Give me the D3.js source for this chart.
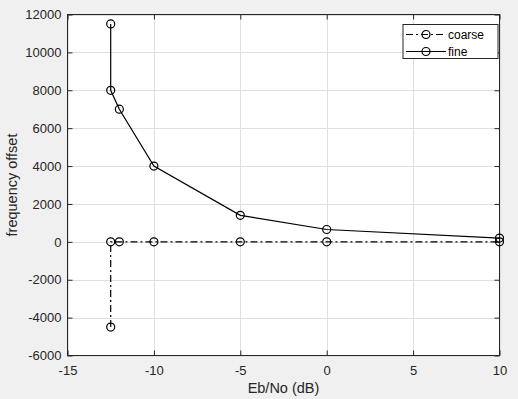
<!DOCTYPE html>
<html>
<head>
<meta charset="utf-8">
<script src="https://cdn.jsdelivr.net/npm/d3@7"></script>
<style>
  body { margin: 0; background: #f0f0f0; }
  svg { display: block; font-family: "Liberation Sans", Arial, sans-serif; }
</style>
</head>
<body>
<div id="chart"></div>
<script>
// data
var ebno = [-12.5, -12.5, -12, -10, -5, 0, 10];
var coarse = [-4500, 0, 0, 0, 0, 0, 0];
var fine = [11500, 8000, 7000, 4000, 1400, 650, 200];
var x_ticks = [-15, -10, -5, 0, 5, 10];
var y_ticks = [-6000, -4000, -2000, 0, 2000, 4000, 6000, 8000, 10000, 12000];
var series_names = ['coarse', 'fine'];

var width = 518, height = 399;
var left = 67.5, right = 499.5, top_y = 14.5, bottom = 355.5;
var axis_col = '#262626';
var fmt = d => String(d);  // plain numbers, hyphen minus

var svg = d3.select('#chart').append('svg')
    .attr('width', width)
    .attr('height', height);

var x = d3.scaleLinear().domain([-15, 10]).range([left, right]);
var y = d3.scaleLinear().domain([-6000, 12000]).range([bottom, top_y]);

// plot area
svg.append('rect')
    .attr('x', left).attr('y', top_y)
    .attr('width', right - left).attr('height', bottom - top_y)
    .style('fill', '#fff');

// grid
var grid = svg.append('g').attr('class', 'grid');
grid.selectAll('line.gx').data(x_ticks).join('line')
    .attr('x1', d => Math.round(x(d)) + 0.5).attr('x2', d => Math.round(x(d)) + 0.5)
    .attr('y1', top_y).attr('y2', bottom)
    .style('stroke', '#dfdfdf');
grid.selectAll('line.gy').data(y_ticks).join('line')
    .attr('y1', d => Math.round(y(d)) + 0.5).attr('y2', d => Math.round(y(d)) + 0.5)
    .attr('x1', left).attr('x2', right)
    .style('stroke', '#dfdfdf');

// axes, ticks inside like matlab
function style_axis(g) {
    g.select('.domain').remove();
    g.selectAll('.tick line').style('stroke', axis_col);
    g.selectAll('.tick text').style('fill', axis_col).style('font-size', '13px');
}
svg.append('g')
    .attr('transform', 'translate(0,' + bottom + ')')
    .call(d3.axisBottom(x).tickValues(x_ticks).tickSizeInner(-5).tickSizeOuter(0).tickPadding(10).tickFormat(fmt))
    .call(style_axis);
svg.append('g')
    .attr('transform', 'translate(0,' + top_y + ')')
    .call(d3.axisTop(x).tickValues(x_ticks).tickSizeInner(-5).tickSizeOuter(0).tickFormat(''))
    .call(style_axis);
svg.append('g')
    .attr('transform', 'translate(' + left + ',0)')
    .call(d3.axisLeft(y).tickValues(y_ticks).tickSizeInner(-5).tickSizeOuter(0).tickPadding(6).tickFormat(fmt))
    .call(style_axis);
svg.append('g')
    .attr('transform', 'translate(' + right + ',0)')
    .call(d3.axisRight(y).tickValues(y_ticks).tickSizeInner(-5).tickSizeOuter(0).tickFormat(''))
    .call(style_axis);

svg.append('rect')
    .attr('x', left).attr('y', top_y)
    .attr('width', right - left).attr('height', bottom - top_y)
    .style('fill', 'none').style('stroke', axis_col);

// series
var dash = {coarse: '7,3,2,3', fine: null};
var line = d3.line().x(d => x(d[0])).y(d => y(d[1]));
[coarse, fine].forEach(function (vals, i) {
    var pts = ebno.map((e, k) => [e, vals[k]]);
    var g = svg.append('g').attr('class', series_names[i]);
    g.append('path')
        .datum(pts)
        .attr('d', line)
        .style('fill', 'none')
        .style('stroke', '#000')
        .style('stroke-width', 1.2)
        .style('stroke-dasharray', dash[series_names[i]]);
    g.selectAll('circle').data(pts).join('circle')
        .attr('cx', d => x(d[0])).attr('cy', d => y(d[1]))
        .attr('r', 4)
        .style('fill', 'none')
        .style('stroke', '#000')
        .style('stroke-width', 1.2);
});

// axis labels
svg.append('text')
    .attr('x', (left + right) / 2).attr('y', 393)
    .attr('text-anchor', 'middle')
    .style('font-size', '14.5px').style('fill', axis_col)
    .text('Eb/No (dB)');
svg.append('text')
    .attr('transform', 'translate(17,' + ((top_y + bottom) / 2) + ') rotate(-90)')
    .attr('text-anchor', 'middle')
    .style('font-size', '14.5px').style('fill', axis_col)
    .text('frequency offset');

// legend
var lg = svg.append('g').attr('transform', 'translate(403,24.5)');
lg.append('rect')
    .attr('width', 95).attr('height', 34)
    .style('fill', '#fff').style('stroke', axis_col);
series_names.forEach(function (name, i) {
    var yy = 10 + i * 17;
    lg.append('line')
        .attr('x1', 3).attr('x2', 43).attr('y1', yy).attr('y2', yy)
        .style('stroke', '#000').style('stroke-width', 1.2)
        .style('stroke-dasharray', dash[name]);
    lg.append('circle')
        .attr('cx', 23).attr('cy', yy).attr('r', 4)
        .style('fill', 'none').style('stroke', '#000').style('stroke-width', 1.2);
    lg.append('text')
        .attr('x', 45).attr('y', yy + 4.5)
        .style('font-size', '12px').style('fill', '#000')
        .text(name);
});
</script>
</body>
</html>
